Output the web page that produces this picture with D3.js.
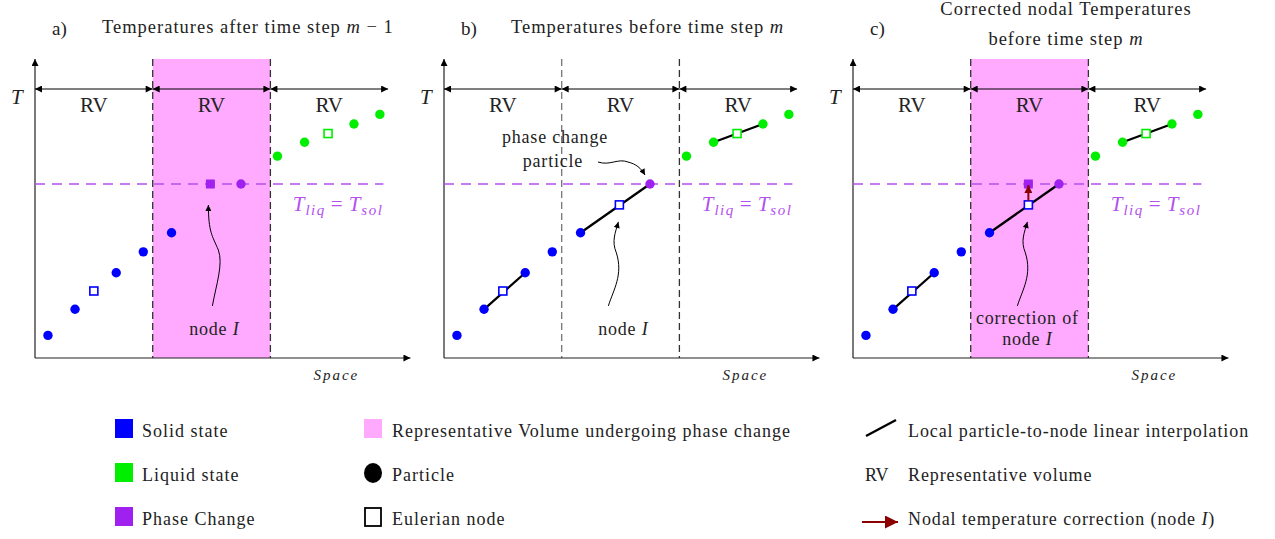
<!DOCTYPE html>
<html>
<head>
<meta charset="utf-8">
<script src="https://cdn.jsdelivr.net/npm/d3@7"></script>
<style>
  body { margin: 0; background: #fff; }
  text { font-family: "Liberation Serif", serif; fill: #222; }
</style>
</head>
<body>
<svg id="chart" width="1275" height="539"></svg>
<script>
// ---- data (space in RV widths, T relative to T_liq) ----
const rvEdges = [0, 1, 2, 3];
const rvLabels = ["RV", "RV", "RV"];
const tLiq = 1.0;

const solidParticles = [[0.11, 0.13], [0.34, 0.28], [0.69, 0.49], [0.92, 0.61], [1.16, 0.72]];
const liquidParticles = [[2.06, 1.16], [2.29, 1.24], [2.71, 1.345], [2.93, 1.40]];
const phaseParticle = [1.75, 1.0];

const solidNode = [0.50, 0.385];
const liquidNode = [2.49, 1.29];
const nodeIBefore = [1.49, 0.88];
const nodeIPhase = [1.49, 1.0];

const panelLetters = ["a)", "b)", "c)"];
const panelTitles = [
    [["Temperatures after time step ", "m", " \u2212 1"]],
    [["Temperatures before time step ", "m"]],
    [["Corrected nodal Temperatures"], ["before time step ", "m"]]
];
const highlightRV = [true, false, true];
const nodeNotes = [["node ", "I"], ["node ", "I"], ["correction of", "node ", "I"]];

const legendStates = ["Solid state", "Liquid state", "Phase Change"];
const legendShapes = ["Representative Volume undergoing phase change", "Particle", "Eulerian node"];
const legendOther = ["Local particle-to-node linear interpolation", "Representative volume", "Nodal temperature correction (node I)"];

// ---- styles ----
const blue = "#0000ff", green = "#00ee00", purple = "#a020f0", pink = "#ffaaff",
      liqColor = "#b450f0", darkRed = "#8b0000";

const svg = d3.select("#chart");

// arrow heads
const defs = svg.append("defs");
function marker(id, color, w, h) {
    defs.append("marker")
        .attr("id", id)
        .attr("viewBox", "0 0 10 10")
        .attr("refX", 10).attr("refY", 5)
        .attr("markerUnits", "userSpaceOnUse")
        .attr("markerWidth", w).attr("markerHeight", h)
        .attr("orient", "auto-start-reverse")
        .append("path")
        .attr("d", "M0,0 L10,5 L0,10 z")
        .attr("fill", color);
}
marker("arr", "#000", 9, 7);
marker("arrSmall", "#000", 7, 6);
marker("arrRed", darkRed, 9, 8);
marker("arrRedBig", darkRed, 15, 13);

const panelX = [35, 444, 853];
const axisY = 358, axisTop = 59, rvW = 117.7;

panelLetters.forEach(function (letter, i) {
    const x0 = panelX[i];
    const xScale = d3.scaleLinear().domain([0, 3]).range([x0, x0 + 3 * rvW]);
    const yScale = d3.scaleLinear().domain([0, tLiq]).range([axisY, 184]);
    const g = svg.append("g");

    // highlighted RV
    if (highlightRV[i]) {
        g.append("rect")
            .attr("x", xScale(1)).attr("y", axisTop)
            .attr("width", xScale(2) - xScale(1)).attr("height", axisY - axisTop)
            .attr("fill", pink);
    }

    // RV boundaries
    [1, 2].forEach(function (e, k) {
        g.append("line")
            .attr("x1", xScale(e)).attr("x2", xScale(e))
            .attr("y1", axisTop).attr("y2", axisY)
            .attr("stroke", (i == 1 && k == 0) ? "#777" : "#333")
            .attr("stroke-width", 1.3)
            .attr("stroke-dasharray", "7,4");
    });

    // axes
    g.append("line")
        .attr("x1", x0).attr("x2", x0)
        .attr("y1", axisY).attr("y2", axisTop)
        .attr("stroke", "#222").attr("stroke-width", 1.2)
        .attr("marker-end", "url(#arr)");
    g.append("line")
        .attr("x1", x0).attr("x2", xScale(3.19))
        .attr("y1", axisY).attr("y2", axisY)
        .attr("stroke", "#222").attr("stroke-width", 1.2)
        .attr("marker-end", "url(#arr)");

    g.append("text")
        .attr("x", x0 - 24).attr("y", 104)
        .style("font-size", "21px").style("font-style", "italic")
        .text("T");
    g.append("text")
        .attr("x", xScale(2.56)).attr("y", 380)
        .attr("text-anchor", "middle")
        .style("font-size", "15px").style("font-style", "italic")
        .style("letter-spacing", "2px")
        .text("Space");

    // RV arrows and labels
    rvLabels.forEach(function (lab, k) {
        g.append("line")
            .attr("x1", xScale(rvEdges[k])).attr("x2", xScale(rvEdges[k + 1]))
            .attr("y1", 89).attr("y2", 89)
            .attr("stroke", "#000").attr("stroke-width", 1.2)
            .attr("marker-start", "url(#arr)")
            .attr("marker-end", "url(#arr)");
        g.append("text")
            .attr("x", xScale(rvEdges[k] + 0.5)).attr("y", 112)
            .attr("text-anchor", "middle")
            .style("font-size", "21px")
            .text(lab);
    });

    // liquidus = solidus line
    g.append("line")
        .attr("x1", xScale(0)).attr("x2", xScale(2.96))
        .attr("y1", yScale(tLiq)).attr("y2", yScale(tLiq))
        .attr("stroke", liqColor).attr("stroke-width", 1.3)
        .attr("stroke-dasharray", "10,7");
    const lt = g.append("text")
        .attr("x", xScale(2.19)).attr("y", yScale(tLiq) + 27)
        .style("font-size", "21px").style("font-style", "italic");
    lt.append("tspan").style("fill", liqColor).text("T");
    lt.append("tspan").style("fill", liqColor).style("font-size", "15px").attr("dy", 4).attr("dx", 1).style("letter-spacing", "1.5px").text("liq");
    lt.append("tspan").style("fill", liqColor).style("font-style", "normal").attr("dy", -4).attr("dx", 5).text("=");
    lt.append("tspan").style("fill", liqColor).attr("dx", 6).text("T");
    lt.append("tspan").style("fill", liqColor).style("font-size", "15px").attr("dy", 4).attr("dx", 1).style("letter-spacing", "1.5px").text("sol");

    // titles
    g.append("text")
        .attr("x", x0 + 17).attr("y", 35)
        .style("font-size", "19px")
        .text(letter);
    const lines = panelTitles[i];
    lines.forEach(function (parts, l) {
        const t = g.append("text")
            .attr("x", lines.length == 1 ? x0 + 67 : x0 + 213)
            .attr("y", lines.length == 1 ? 33 : 15 + l * 30)
            .attr("text-anchor", lines.length == 1 ? "start" : "middle")
            .style("font-size", "18.5px")
            .style("letter-spacing", "1px");
        parts.forEach(function (p, j) {
            t.append("tspan").style("font-style", j == 1 ? "italic" : "normal").text(p);
        });
    });

    // interpolation lines (b, c)
    const segs = i == 0 ? [] : [
        [solidParticles[1], solidParticles[2]],
        [solidParticles[4], phaseParticle],
        [liquidParticles[1], liquidParticles[2]]
    ];
    g.selectAll(".seg").data(segs).join("line")
        .attr("x1", d => xScale(d[0][0])).attr("y1", d => yScale(d[0][1]))
        .attr("x2", d => xScale(d[1][0])).attr("y2", d => yScale(d[1][1]))
        .attr("stroke", "#000").attr("stroke-width", 2.3);

    // particles
    const parts = solidParticles.map(d => [d, blue])
        .concat(liquidParticles.map(d => [d, green]))
        .concat([[phaseParticle, purple]]);
    g.selectAll(".pt").data(parts).join("circle")
        .attr("cx", d => xScale(d[0][0])).attr("cy", d => yScale(d[0][1]))
        .attr("r", 4.7).attr("fill", d => d[1]);

    // nodes
    let nodes = [[solidNode, blue, false], [liquidNode, green, false]];
    if (i == 0) nodes.push([nodeIPhase, purple, true]);
    if (i == 1) nodes.push([nodeIBefore, blue, false]);
    if (i == 2) nodes.push([nodeIPhase, purple, true], [nodeIBefore, blue, false]);
    g.selectAll(".nd").data(nodes).join("rect")
        .attr("x", d => xScale(d[0][0]) - (d[2] ? 4.5 : 4))
        .attr("y", d => yScale(d[0][1]) - (d[2] ? 4.5 : 4))
        .attr("width", d => d[2] ? 9 : 8).attr("height", d => d[2] ? 9 : 8)
        .attr("fill", d => d[2] ? d[1] : "#fff")
        .attr("stroke", d => d[2] ? "none" : d[1])
        .attr("stroke-width", 1.6);

    // correction arrow (c)
    if (i == 2) {
        g.append("line")
            .attr("x1", xScale(nodeIBefore[0])).attr("x2", xScale(nodeIPhase[0]))
            .attr("y1", yScale(nodeIBefore[1]) - 4).attr("y2", yScale(nodeIPhase[1]) + 1)
            .attr("stroke", darkRed).attr("stroke-width", 2)
            .attr("marker-end", "url(#arrRed)");
    }

    // node I annotation
    const nI = i == 0 ? nodeIPhase : nodeIBefore;
    const nx = xScale(nI[0]), ny = yScale(nI[1]);
    const path = i == 0
        ? `M${nx + 2},${ny + 122} C${nx + 6},${ny + 100} ${nx + 13},${ny + 80} ${nx + 8},${ny + 66} C${nx + 2},${ny + 52} ${nx - 2},${ny + 48} ${nx - 2},${ny + 21}`
        : `M${nx - 11},${ny + 101} C${nx - 6},${ny + 85} ${nx + 4},${ny + 70} ${nx - 3},${ny + 48} C${nx - 8},${ny + 36} ${nx - 4},${ny + 28} ${nx - 1},${ny + 17}`;
    g.append("path")
        .attr("d", path)
        .attr("fill", "none").attr("stroke", "#000").attr("stroke-width", 1)
        .attr("marker-end", "url(#arrSmall)");
    const note = nodeNotes[i];
    const noteX = i == 2 ? nx - 1 : nx + 4;
    const noteY = i == 2 ? [324, 345] : [335];
    const nt = g.append("text").attr("text-anchor", "middle").style("font-size", "18px");
    if (note.length == 3) {
        g.append("text").attr("x", noteX).attr("y", noteY[0])
            .attr("text-anchor", "middle").style("font-size", "18px").style("letter-spacing", "0.8px")
            .text(note[0]);
    }
    nt.attr("x", noteX).attr("y", noteY[noteY.length - 1]).style("letter-spacing", "0.8px");
    nt.append("tspan").text(note[note.length - 2]);
    nt.append("tspan").style("font-style", "italic").text(note[note.length - 1]);

    // phase change particle annotation (b)
    if (i == 1) {
        const px = xScale(phaseParticle[0]), py = yScale(phaseParticle[1]);
        g.append("text").attr("x", px - 95).attr("y", 143)
            .attr("text-anchor", "middle").style("font-size", "18px").style("letter-spacing", "0.8px")
            .text("phase change");
        g.append("text").attr("x", px - 97).attr("y", 167)
            .attr("text-anchor", "middle").style("font-size", "18px").style("letter-spacing", "0.8px")
            .text("particle");
        g.append("path")
            .attr("d", `M${px - 52},${py - 22} C${px - 40},${py - 18} ${px - 32},${py - 26} ${px - 22},${py - 22} C${px - 14},${py - 20} ${px - 9},${py - 16} ${px - 5},${py - 9}`)
            .attr("fill", "none").attr("stroke", "#000").attr("stroke-width", 1)
            .attr("marker-end", "url(#arrSmall)");
    }
});

// ---- legend ----
const rowY = [437, 481, 525];
const stateColors = [blue, green, purple];
const leg = svg.append("g").style("font-size", "18px");

legendStates.forEach(function (lab, k) {
    leg.append("rect").attr("x", 115).attr("y", rowY[k] - 18)
        .attr("width", 18).attr("height", 19).attr("fill", stateColors[k]);
    leg.append("text").attr("x", 142).attr("y", rowY[k])
        .style("letter-spacing", "1px").text(lab);
});

legendShapes.forEach(function (lab, k) {
    if (k == 0) {
        leg.append("rect").attr("x", 364).attr("y", rowY[k] - 18)
            .attr("width", 18).attr("height", 19).attr("fill", pink);
    } else if (k == 1) {
        leg.append("ellipse").attr("cx", 373).attr("cy", rowY[k] - 8)
            .attr("rx", 9).attr("ry", 10).attr("fill", "#000");
    } else {
        leg.append("rect").attr("x", 365).attr("y", rowY[k] - 17)
            .attr("width", 16).attr("height", 18)
            .attr("fill", "#fff").attr("stroke", "#000").attr("stroke-width", 1.8);
    }
    leg.append("text").attr("x", 392).attr("y", rowY[k])
        .style("letter-spacing", "1px").text(lab);
});

legendOther.forEach(function (lab, k) {
    if (k == 0) {
        leg.append("line").attr("x1", 866).attr("y1", rowY[k] - 1)
            .attr("x2", 896).attr("y2", rowY[k] - 17)
            .attr("stroke", "#000").attr("stroke-width", 2.5);
    } else if (k == 1) {
        leg.append("text").attr("x", 865).attr("y", rowY[k]).text("RV");
    } else {
        leg.append("line").attr("x1", 862).attr("y1", rowY[k] - 3)
            .attr("x2", 898).attr("y2", rowY[k] - 3)
            .attr("stroke", darkRed).attr("stroke-width", 2)
            .attr("marker-end", "url(#arrRedBig)");
    }
    const t = leg.append("text").attr("x", 908).attr("y", rowY[k]).style("letter-spacing", "0.9px");
    if (k == 2) {
        t.append("tspan").text("Nodal temperature correction (node ");
        t.append("tspan").style("font-style", "italic").text("I");
        t.append("tspan").text(")");
    } else {
        t.text(lab);
    }
});
</script>
</body>
</html>
